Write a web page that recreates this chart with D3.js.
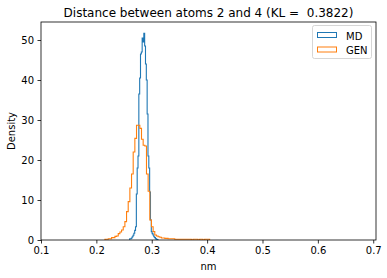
<!DOCTYPE html>
<html><head><meta charset="utf-8">
<script src="https://cdnjs.cloudflare.com/ajax/libs/d3/7.8.5/d3.min.js"></script>
<style>body{margin:0;background:#fff}svg{display:block;font-family:"DejaVu Sans",sans-serif}</style>
</head><body><svg id="c" width="387" height="278"></svg>
<script>
// ---- data ----
const titleText = "Distance between atoms 2 and 4 (KL =  0.3822)";
const xLabel = "nm";
const yLabel = "Density";
const seriesNames = ["MD", "GEN"];
const xTicks = [0.1, 0.2, 0.3, 0.4, 0.5, 0.6, 0.7];
const yTicks = [0, 10, 20, 30, 40, 50];
const xDomain = [0.1, 0.705];
const yDomain = [0, 54.5];

// MD histogram: first bin edge, bin width, densities
const mdStart = 0.2602;
const mdWidth = 0.0015;
const mdDensity = [0.3,0.3,0.5,0.8,1.2,1.7,2.4,3.3,11.5,18,21,36.5,40.5,46.5,47,50.5,49.5,51.7,48.5,44,40,31.5,21,18,12,5,2.1,1.6,1.25,0.8,0.6,0.35,0.2,0.1];

// GEN histogram
const genStart = 0.2155;
const genWidth = 0.003;
const genDensity = [0.2,0.2,0.3,0.3,0.6,0.6,0.9,1.0,1.6,2.0,2.5,3.3,4.6,7.1,9.6,13,16.5,22,25.4,28.7,28.7,27.9,25.2,23.7,23.5,16.5,12.2,5,3.3,2.1,1.25,1.0,0.8,0.7,0.5,0.5,0.4,0.4,0.3,0.3,0.3,0.3,0.17,0.17,0.17,0.17,0.17,0.17,0.17,0.17,0.17,0.17,0,0.17,0.17,0.17,0,0.17,0.17,0,0.17,0.17,0.17];

const colors = ["#1f77b4", "#ff7f0e"];

// ---- drawing ----
const W = 387, H = 278;
const m = {l: 41, r: 376, t: 22, b: 240};
const svg = d3.select("#c");
const x = d3.scaleLinear().domain(xDomain).range([m.l, m.r]);
const y = d3.scaleLinear().domain(yDomain).range([m.b, m.t]);

function stepPoints(start, width, dens) {
  const pts = [[start, 0]];
  dens.forEach((d, i) => {
    pts.push([start + i * width, d]);
    pts.push([start + (i + 1) * width, d]);
  });
  pts.push([start + dens.length * width, 0]);
  return pts;
}
const line = d3.line().x(d => x(d[0])).y(d => y(d[1]));

const plot = svg.append("g");
plot.append("defs").append("clipPath").attr("id","clip").append("rect")
  .attr("x", m.l).attr("y", m.t).attr("width", m.r - m.l).attr("height", m.b - m.t);

const series = [
  stepPoints(mdStart, mdWidth, mdDensity),
  stepPoints(genStart, genWidth, genDensity)
];
series.forEach((pts, i) => {
  plot.append("path").attr("d", line(pts)).attr("fill", "none")
    .attr("stroke", colors[i]).attr("stroke-width", 1.1)
    .attr("stroke-linejoin", "miter").attr("clip-path", "url(#clip)");
});

// axes
const xAxis = d3.axisBottom(x).tickValues(xTicks).tickFormat(d3.format(".1f")).tickSizeOuter(0).tickSize(3.5).tickPadding(3.5);
const yAxis = d3.axisLeft(y).tickValues(yTicks).tickFormat(d3.format("d")).tickSizeOuter(0).tickSize(3.5).tickPadding(3.5);
const gx = svg.append("g").attr("transform", `translate(0,${m.b})`).call(xAxis);
const gy = svg.append("g").attr("transform", `translate(${m.l},0)`).call(yAxis);
[gx, gy].forEach(g => {
  g.select(".domain").remove();
  g.selectAll("line").attr("stroke", "#000").attr("stroke-width", 0.8);
  g.selectAll("text").attr("font-size", 10).attr("fill", "#000").attr("font-family", "DejaVu Sans");
});

// frame
svg.append("rect").attr("x", m.l).attr("y", m.t).attr("width", m.r - m.l).attr("height", m.b - m.t)
  .attr("fill", "none").attr("stroke", "#000").attr("stroke-width", 0.8);

// title & labels
svg.append("text").attr("x", (m.l + m.r) / 2).attr("y", 17).attr("text-anchor", "middle")
  .attr("font-size", 12).style("white-space", "pre").attr("xml:space", "preserve").text(titleText);
svg.append("text").attr("x", (m.l + m.r) / 2).attr("y", 270).attr("text-anchor", "middle")
  .attr("font-size", 10).text(xLabel);
svg.append("text").attr("transform", `translate(15,${(m.t + m.b) / 2}) rotate(-90)`)
  .attr("text-anchor", "middle").attr("font-size", 10).text(yLabel);

// legend
const lg = svg.append("g");
lg.append("rect").attr("x", 312.5).attr("y", 25.5).attr("width", 59).attr("height", 33).attr("rx", 2)
  .attr("fill", "#fff").attr("fill-opacity", 0.8).attr("stroke", "#ccc").attr("stroke-width", 0.8);
seriesNames.forEach((n, i) => {
  const yy = 32.5 + i * 14.5;
  lg.append("rect").attr("x", 317.5).attr("y", yy).attr("width", 19).attr("height", 5)
    .attr("fill", "none").attr("stroke", colors[i]).attr("stroke-width", 1);
  lg.append("text").attr("x", 346).attr("y", yy + 7).attr("font-size", 10).text(n);
});
</script></body></html>
